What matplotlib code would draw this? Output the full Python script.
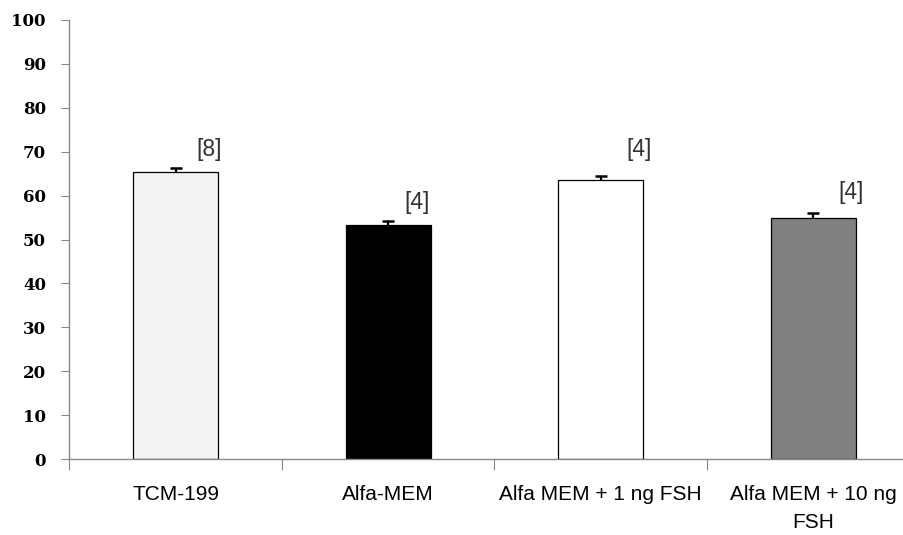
import matplotlib
matplotlib.use("Agg")
import matplotlib.pyplot as plt

categories = ["TCM-199", "Alfa-MEM", "Alfa MEM + 1 ng FSH", "Alfa MEM + 10 ng\nFSH"]
values = [65.4, 53.4, 63.5, 55.0]
errors = [1.0, 0.9, 1.0, 1.0]
counts = ["[8]", "[4]", "[4]", "[4]"]
label_y = [70.6, 58.5, 70.6, 60.8]
label_dx = [0.155, 0.137, 0.18, 0.18]
colors = ["#f2f2f2", "#000000", "#ffffff", "#808080"]

fig = plt.figure(figsize=(9.04, 5.35), dpi=100)
ax = fig.add_axes([69.5 / 904, 1 - 459 / 535, 850 / 904, 439 / 535])

x = list(range(len(categories)))
ax.bar(x, values, width=0.4, color=colors, edgecolor="black", linewidth=0.9, zorder=2)
eb = ax.errorbar(x, values, yerr=[[0] * 4, errors], fmt="none", ecolor="black",
                 elinewidth=1.6, capsize=4, capthick=1.8, zorder=3)
# only the upper cap is drawn
eb[1][0].set_visible(False)
for i, t in enumerate(counts):
    ax.text(i + label_dx[i], label_y[i], t, ha="center", va="center",
            fontsize=16.5, color="#333333", family="Liberation Sans")

ax.set_xlim(-0.5, 3.5)
ax.set_ylim(0, 100)
ax.set_yticks(range(0, 101, 10))
ax.set_yticklabels([str(v) for v in range(0, 101, 10)],
                   fontsize=12, fontweight="bold", family="DejaVu Serif")
ax.set_xticks([-0.5, 0.5, 1.5, 2.5, 3.5])
ax.set_xticks(x, minor=True)
ax.set_xticklabels([])
ax.set_xticklabels(categories, minor=True, fontsize=15, family="Liberation Sans",
                   linespacing=1.55)
ax.tick_params(axis="x", which="minor", length=0, pad=19)
ax.tick_params(axis="x", which="major", length=8, color="#888888", direction="out")
ax.tick_params(axis="y", length=6, color="#888888", direction="out", pad=11)
for s in ["top", "right"]:
    ax.spines[s].set_visible(False)
for s in ["left", "bottom"]:
    ax.spines[s].set_color("#888888")
    ax.spines[s].set_linewidth(1)

fig.savefig("out.png", dpi=100)
